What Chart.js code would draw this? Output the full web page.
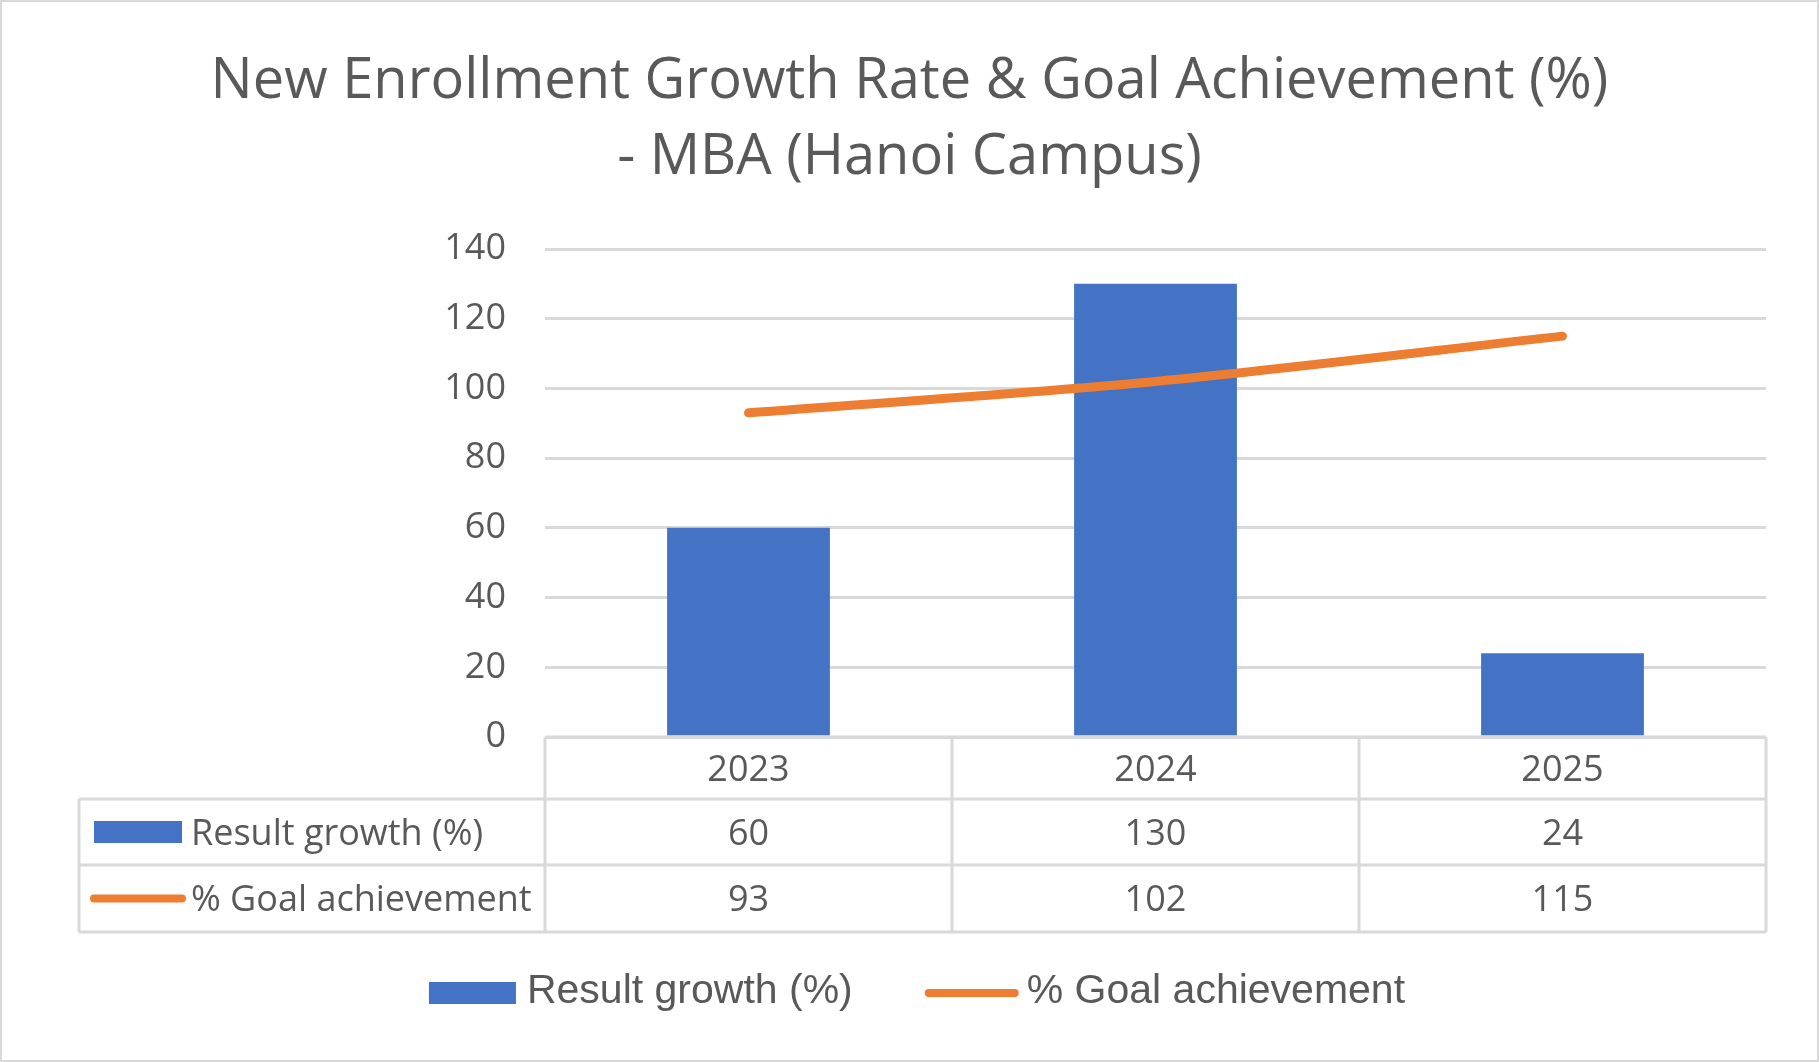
<!DOCTYPE html>
<html>
<head>
<meta charset="utf-8">
<title>New Enrollment Growth Rate &amp; Goal Achievement (%) - MBA (Hanoi Campus)</title>
<script src="https://cdn.jsdelivr.net/npm/chart.js@4.4.1/dist/chart.umd.min.js"></script>
<style>
    html, body { margin: 0; padding: 0; background: #ffffff; }
    #chartBox { width: 1819px; height: 1062px; position: relative; }
</style>
</head>
<body>
<div id="chartBox"><canvas id="mainChart"></canvas></div>
<script>
// chart data
const years = ['2023', '2024', '2025'];
const resultGrowth = [60, 130, 24];
const goalAchievement = [93, 102, 115];
const yTicks = [0, 20, 40, 60, 80, 100, 120, 140];
const titleLines = ['New Enrollment Growth Rate & Goal Achievement (%)', '- MBA (Hanoi Campus)'];
const seriesNames = ['Result growth (%)', '% Goal achievement'];

// colours and fonts
const BLUE = '#4472C4';
const ORANGE = '#ED7D31';
const TEXT = '#595959';
const LINE_GRAY = '#D9D9D9';
const FONT = '"Open Sans", sans-serif';
const LEGEND_FONT = '"Liberation Sans", Arial, sans-serif';

class EnrollmentChart {
    constructor(canvasId) {
        this.canvas = document.getElementById(canvasId);
        this.chart = null;
        this.build();
    }

    // white page, thin grey frame
    frame(chart) {
        const { ctx, width, height } = chart;
        ctx.save();
        ctx.fillStyle = '#ffffff';
        ctx.fillRect(0, 0, width, height);
        ctx.strokeStyle = LINE_GRAY;
        ctx.lineWidth = 2;
        ctx.strokeRect(1, 1, width - 2, height - 2);
        ctx.restore();
    }

    // x0..x1 is the outer extent of the key, caps included
    legendKey(ctx, kind, x0, x1, cy) {
        if (kind === 'bar') {
            ctx.fillStyle = BLUE;
            ctx.fillRect(x0, cy - 11, x1 - x0, 22);
        } else {
            ctx.strokeStyle = ORANGE;
            ctx.lineWidth = 8;
            ctx.lineCap = 'round';
            ctx.beginPath();
            ctx.moveTo(x0 + 4, cy);
            ctx.lineTo(x1 - 4, cy);
            ctx.stroke();
        }
    }

    // data table under the plot, columns follow the x scale
    drawTable(chart) {
        const { ctx, chartArea } = chart;
        const xScale = chart.scales.x;
        const colW = (chartArea.right - chartArea.left) / years.length;
        const top = chartArea.bottom;
        const rowLines = [top, top + 62, top + 128, top + 195];
        const tableLeft = 79;
        const rows = [resultGrowth, goalAchievement];
        const kinds = ['bar', 'line'];
        const keySpan = [[94, 182], [90, 186]];

        ctx.save();
        ctx.strokeStyle = LINE_GRAY;
        ctx.lineWidth = 3;
        ctx.beginPath();
        for (let i = 0; i <= years.length; i++) {
            const x = chartArea.left + i * colW;
            ctx.moveTo(x, top);
            ctx.lineTo(x, rowLines[3]);
        }
        ctx.moveTo(tableLeft, rowLines[1]);
        ctx.lineTo(tableLeft, rowLines[3]);
        ctx.moveTo(chartArea.left, top);
        ctx.lineTo(chartArea.right, top);
        for (let r = 1; r < rowLines.length; r++) {
            ctx.moveTo(tableLeft, rowLines[r]);
            ctx.lineTo(chartArea.right, rowLines[r]);
        }
        ctx.stroke();

        ctx.fillStyle = TEXT;
        ctx.font = '36px ' + FONT;
        ctx.textBaseline = 'alphabetic';
        const capShift = 36 * 0.357;

        // header row
        ctx.textAlign = 'center';
        years.forEach((year, i) => {
            const cy = (rowLines[0] + rowLines[1]) / 2;
            ctx.fillText(year, xScale.getPixelForValue(i), cy + capShift);
        });

        // series rows
        rows.forEach((values, r) => {
            const cy = (rowLines[r + 1] + rowLines[r + 2]) / 2;
            ctx.save();
            this.legendKey(ctx, kinds[r], keySpan[r][0], keySpan[r][1], cy);
            ctx.restore();
            ctx.fillStyle = TEXT;
            ctx.textAlign = 'left';
            ctx.fillText(seriesNames[r], 191, cy + capShift);
            ctx.textAlign = 'center';
            values.forEach((v, i) => {
                ctx.fillText(String(v), xScale.getPixelForValue(i), cy + capShift);
            });
        });
        ctx.restore();
    }

    // legend at the bottom
    drawLegend(chart) {
        const { ctx } = chart;
        const cy = 993;
        const keyW = [87, 94];
        const keyGap = [11, 8];
        const itemGap = 72;
        const kinds = ['bar', 'line'];

        ctx.save();
        ctx.font = '41px ' + LEGEND_FONT;
        const textW = seriesNames.map(name => ctx.measureText(name).width);
        let total = itemGap;
        for (let i = 0; i < 2; i++) total += keyW[i] + keyGap[i] + textW[i];
        let x = 917 - total / 2;

        for (let i = 0; i < 2; i++) {
            ctx.save();
            this.legendKey(ctx, kinds[i], x, x + keyW[i], cy);
            ctx.restore();
            x += keyW[i] + keyGap[i];
            ctx.fillStyle = TEXT;
            ctx.textAlign = 'left';
            ctx.textBaseline = 'alphabetic';
            ctx.fillText(seriesNames[i], x, cy - 5 + 41 * 0.358);
            x += textW[i] + itemGap;
        }
        ctx.restore();
    }

    build() {
        const self = this;
        const extras = {
            id: 'tableAndLegend',
            beforeDraw(chart) { self.frame(chart); },
            afterDraw(chart) {
                self.drawTable(chart);
                self.drawLegend(chart);
            }
        };

        this.chart = new Chart(this.canvas, {
            type: 'bar',
            data: {
                labels: years,
                datasets: [
                    {
                        type: 'bar',
                        label: seriesNames[0],
                        data: resultGrowth,
                        backgroundColor: BLUE,
                        categoryPercentage: 1.0,
                        barPercentage: 0.4,
                        order: 2
                    },
                    {
                        type: 'line',
                        label: seriesNames[1],
                        data: goalAchievement,
                        borderColor: ORANGE,
                        borderWidth: 9,
                        borderCapStyle: 'round',
                        tension: 0.3,
                        pointRadius: 0,
                        fill: false,
                        order: 1
                    }
                ]
            },
            options: {
                responsive: true,
                maintainAspectRatio: false,
                devicePixelRatio: 1,
                animation: false,
                layout: {
                    padding: { top: 0, left: 53, right: 53, bottom: 130 }
                },
                scales: {
                    x: {
                        type: 'category',
                        grid: { display: false },
                        border: { display: false },
                        ticks: { display: false },
                        afterFit: scale => { scale.height = 195; }
                    },
                    y: {
                        min: yTicks[0],
                        max: yTicks[yTicks.length - 1],
                        border: { display: false },
                        grid: { color: LINE_GRAY, lineWidth: 3, drawTicks: false },
                        ticks: {
                            stepSize: yTicks[1] - yTicks[0],
                            color: TEXT,
                            padding: 39,
                            font: { family: FONT, size: 36 }
                        },
                        afterFit: scale => { scale.width = 492; }
                    }
                },
                plugins: {
                    legend: { display: false },
                    tooltip: { enabled: false },
                    title: {
                        display: true,
                        text: titleLines,
                        color: TEXT,
                        font: { family: FONT, size: 56, weight: 'normal', lineHeight: 76 / 56 },
                        padding: { top: 44, bottom: 53 }
                    }
                }
            },
            plugins: [extras]
        });
    }
}

document.addEventListener('DOMContentLoaded', () => {
    new EnrollmentChart('mainChart');
});
</script>
</body>
</html>
